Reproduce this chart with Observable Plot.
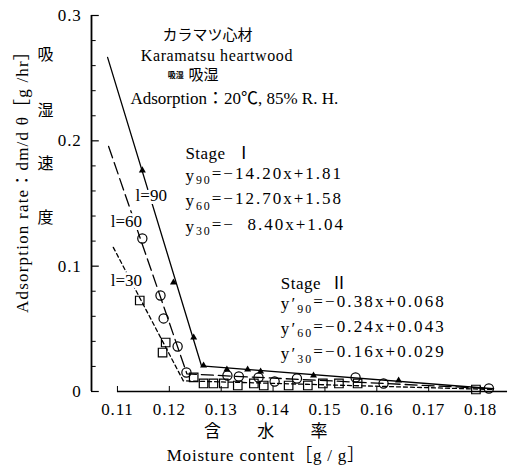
<!DOCTYPE html>
<html><head><meta charset="utf-8">
<script src="https://cdn.jsdelivr.net/npm/d3@7"></script>
<script src="https://cdn.jsdelivr.net/npm/@observablehq/plot@0.6"></script>
<style>
body{margin:0;background:#fff;}
#chart{width:510px;height:466px;}
svg text{font-family:"Liberation Serif","Noto Sans CJK JP",serif;}
</style></head><body><div id="chart"></div>
<script>
// ---- data ----
const xTicks = [0.11, 0.12, 0.13, 0.14, 0.15, 0.16, 0.17, 0.18];
const xTickLabels = ["0.11", "0.12", "0.13", "0.14", "0.15", "0.16", "0.17", "0.18"];
const yTicks = [0, 0.1, 0.2, 0.3];
const yTickLabels = ["0", "0.1", "0.2", "0.3"];
const yMinorTicks = [0.02, 0.04, 0.06, 0.08, 0.12, 0.14, 0.16, 0.18, 0.22, 0.24, 0.26, 0.28];

// fitted lines (stage I start, knee, stage II end)
const line90 = [[0.1081, 0.2666], [0.1262, 0.0205], [0.1825, 0.0022]];
const line60 = [[0.1083, 0.1955], [0.1234, 0.0140], [0.1825, 0.0022]];
const line30 = [[0.1092, 0.1150], [0.1227, 0.0085], [0.1825, 0.0016]];

// measured points
const pts90 = [[0.1148, 0.1764], [0.1208, 0.0870], [0.1247, 0.0431], [0.1266, 0.0208], [0.1311, 0.0176],
  [0.1351, 0.0176], [0.1376, 0.0160], [0.1478, 0.0128], [0.1642, 0.0088]];
const pts60 = [[0.1148, 0.1221], [0.1183, 0.0766], [0.1189, 0.0583], [0.1216, 0.0359], [0.1233, 0.0152],
  [0.1312, 0.0128], [0.1334, 0.0120], [0.1372, 0.0112], [0.1403, 0.0080], [0.1446, 0.0104],
  [0.1559, 0.0112], [0.1613, 0.0064], [0.1816, 0.0024]];
const pts30 = [[0.1143, 0.0726], [0.1193, 0.0391], [0.1187, 0.0311], [0.1247, 0.0112], [0.1266, 0.0064],
  [0.1285, 0.0064], [0.1305, 0.0064], [0.1332, 0.0048], [0.1363, 0.0064], [0.1382, 0.0048],
  [0.1430, 0.0048], [0.1467, 0.0048], [0.1496, 0.0064], [0.1527, 0.0064], [0.1563, 0.0064],
  [0.1791, 0.0016]];

const seriesLabels = ["l=90", "l=60", "l=30"];
const stage1 = ["Stage  Ⅰ", "y|90|=−14.20x+1.81", "y|60|=−12.70x+1.58", "y|30|=−  8.40x+1.04"];
const stage2 = ["Stage  Ⅱ", "y′|90|=−0.38x+0.068", "y′|60|=−0.24x+0.043", "y′|30|=−0.16x+0.029"];
const headerLines = ["カラマツ心材", "Karamatsu heartwood", "吸湿", "吸湿", "Adsorption：20℃, 85% R. H."];
const yTitle = "Adsorption rate：dm/d θ［g /hr］";
const yTitleJa = ["吸", "湿", "速", "度"];
const xTitleJa = "含 水 率";
const xTitle = "Moisture content［g / g］";

const X0 = 0.105;

const svg = Plot.plot({
  width: 510, height: 466,
  marginLeft: 91, marginRight: 4, marginTop: 15, marginBottom: 75,
  x: {domain: [0.105, 0.185], axis: null},
  y: {domain: [0, 0.3], axis: null},
  style: {background: "#fff", color: "#000", fontFamily: "Liberation Serif, Noto Sans CJK JP, serif"},
  marks: [
    // axes
    Plot.ruleX([X0], {y1: 0, y2: 0.3, stroke: "#000", strokeWidth: 1.8}),
    Plot.ruleY(yMinorTicks, {y: d => d, x1: X0, x2: X0 + 0.0009, stroke: "#000", strokeWidth: 1}),
    Plot.ruleY(yTicks, {y: d => d, x1: X0, x2: X0 + 0.0015, stroke: "#000", strokeWidth: 1.2}),
    Plot.ruleY([0], {x1: 0.11, x2: 0.1852, stroke: "#000", strokeWidth: 1.5}),
    Plot.ruleX(xTicks, {x: d => d, y1: 0, y2: 0.004, stroke: "#000", strokeWidth: 1}),
    Plot.text(yTicks, {x: X0, y: d => d, text: (d, i) => yTickLabels[i], dx: -10, textAnchor: "end", fontSize: 17, fill: "#000"}),
    Plot.text(xTicks, {x: d => d, y: 0, text: (d, i) => xTickLabels[i], dy: 18, fontSize: 17, fill: "#000"}),
    // lines
    Plot.line(line90, {x: d => d[0], y: d => d[1], stroke: "#000", strokeWidth: 1.3}),
    Plot.line(line60, {x: d => d[0], y: d => d[1], stroke: "#000", strokeWidth: 1.3, strokeDasharray: "12,5"}),
    Plot.line(line30, {x: d => d[0], y: d => d[1], stroke: "#000", strokeWidth: 1.3, strokeDasharray: "4,3"}),
    // points
    Plot.dot(pts90, {x: d => d[0], y: d => d[1], symbol: "triangle", r: 2.6, fill: "#000", stroke: "none"}),
    Plot.dot(pts60, {x: d => d[0], y: d => d[1], symbol: "circle", r: 4.6, fill: "none", stroke: "#000", strokeWidth: 1.2}),
    Plot.dot(pts30, {x: d => d[0], y: d => d[1], symbol: "square", r: 4.8, fill: "none", stroke: "#000", strokeWidth: 1.2}),
    // series labels with white halo
    Plot.text([seriesLabels[0]], {x: 0.1135, y: 0.1564, text: d => d, textAnchor: "start", fontSize: 17, fill: "#000", stroke: "#fff", strokeWidth: 6}),
    Plot.text([seriesLabels[1]], {x: 0.1087, y: 0.1357, text: d => d, textAnchor: "start", fontSize: 17, fill: "#000", stroke: "#fff", strokeWidth: 6}),
    Plot.text([seriesLabels[2]], {x: 0.1087, y: 0.0886, text: d => d, textAnchor: "start", fontSize: 17, fill: "#000", stroke: "#fff", strokeWidth: 6}),
    // header
    Plot.text([headerLines[0]], {x: 0.1187, y: 0.2841, text: d => d, textAnchor: "start", fontSize: 15, fill: "#000"}),
    Plot.text([headerLines[1]], {x: 0.1145, y: 0.2676, text: d => d, textAnchor: "start", fontSize: 16, fill: "#000"}),
    Plot.text([headerLines[2]], {x: 0.1197, y: 0.2522, text: d => d, textAnchor: "start", fontSize: 8, fontWeight: "bold", fill: "#000"}),
    Plot.text([headerLines[3]], {x: 0.1237, y: 0.2522, text: d => d, textAnchor: "start", fontSize: 15, fill: "#000"}),
    Plot.text([headerLines[4]], {x: 0.1125, y: 0.2338, text: d => d, textAnchor: "start", fontSize: 17, fill: "#000"}),
    // stage I
    Plot.text(stage1, {x: 0.1231, y: (d, i) => [0.190, 0.1724, 0.1524, 0.1317][i], text: d => d, textAnchor: "start", fontSize: 17, fill: "#000"}),
    // stage II
    Plot.text(stage2, {x: 0.1415, y: (d, i) => [0.0862, 0.0702, 0.0503, 0.0303][i], text: d => d, textAnchor: "start", fontSize: 17, fill: "#000"}),
    // y titles
    Plot.text([yTitle], {x: X0, y: 0.1708, text: d => d, dx: -69, rotate: -90, fontSize: 17, fill: "#000"}),
    Plot.text(yTitleJa, {x: X0, y: (d, i) => [0.2682, 0.2243, 0.182, 0.1389][i], text: d => d, dx: -46, fontSize: 16, fill: "#000"}),
    // x titles
    Plot.text([xTitleJa], {x: 0.1386, y: 0, text: d => d, dx: 8, dy: 40, fontSize: 17, fill: "#000"}),
    Plot.text([xTitle], {x: 0.1386, y: 0, text: d => d, dy: 64, fontSize: 17, fill: "#000"})
  ]
});

// letter spacing by content (before subscripts are split)
const spacing = new Map([
  [xTitleJa, "16px"], [xTitle, "0.8px"], [yTitle, "1.2px"], [headerLines[1], "0.6px"],
  ...stage1.slice(1).map(s => [s, "2px"]), ...stage2.slice(1).map(s => [s, "2.1px"]),
  [stage1[0], "0.5px"], [stage2[0], "0.5px"],
  ...xTickLabels.map(s => [s, "0.8px"]), ...yTickLabels.map(s => [s, "0.8px"])
]);
d3.select(svg).selectAll("text").each(function () {
  const ls = spacing.get(this.textContent);
  if (ls) d3.select(this).attr("letter-spacing", ls).style("white-space", "pre");
});
// subscripts
d3.select(svg).selectAll("text").each(function () {
  const t = this.textContent;
  if (!t.includes("|")) return;
  const [a, b, c] = t.split("|");
  const sel = d3.select(this);
  sel.text(null);
  sel.append("tspan").text(a);
  sel.append("tspan").attr("font-size", "0.7em").attr("dy", "0.3em").text(b);
  sel.append("tspan").attr("dy", "-0.3em").text(c);
});
document.getElementById("chart").appendChild(svg);
</script>
</body></html>
